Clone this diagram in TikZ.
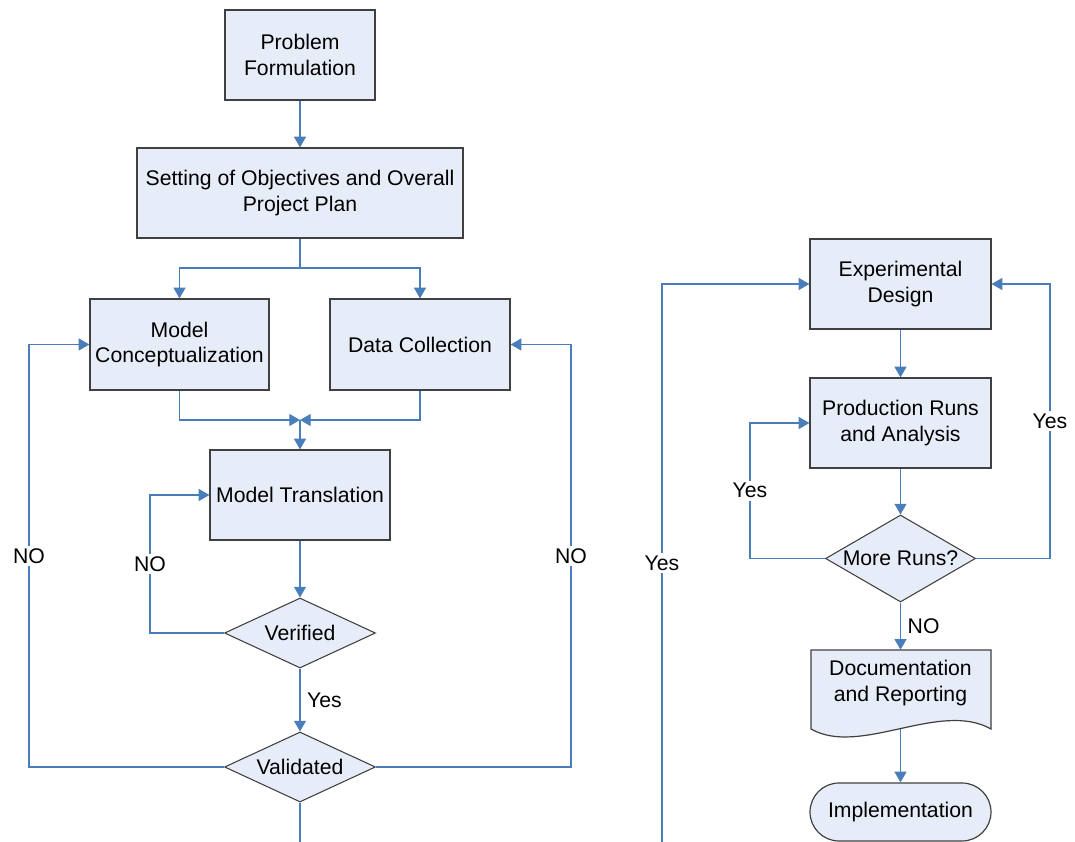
\documentclass[tikz,border=0pt]{standalone}
\usepackage{fontspec}
\setmainfont{Liberation Sans}
\usetikzlibrary{arrows.meta,shapes.geometric,calc}
\definecolor{boxfill}{RGB}{231,237,248}
\definecolor{boxline}{RGB}{64,64,64}
\definecolor{flow}{RGB}{74,126,187}

\begin{document}
\begin{tikzpicture}[x=0.75pt,y=-0.75pt,
  every node/.style={font=\fontsize{15.9}{18.9}\selectfont},
  box/.style={draw=boxline, fill=boxfill, line width=0.9pt, align=center, inner sep=0pt},
  dec/.style={diamond, draw=boxline, fill=boxfill, line width=0.8pt, inner sep=0pt},
  flowline/.style={draw=flow, line width=0.8pt},
  arr/.style={flowline, -{Triangle[length=8pt,width=9pt]}},
  lbl/.style={fill=white, inner sep=2pt},
  side/.style={anchor=west, xshift=5pt, inner sep=0pt},
]
\useasboundingbox (0,0) rectangle (1075,842);

% ---- left column: modelling steps ----
\node[box, minimum width=112.5pt, minimum height=67.5pt] (prob) at (300,55) {Problem\\Formulation};
\node[box, minimum width=244.5pt, minimum height=67.5pt] (obj) at (300,193) {Setting of Objectives and Overall\\Project Plan};
\node[box, minimum width=134.25pt, minimum height=68.25pt] (concept) at (179.5,344.5) {Model\\Conceptualization};
\node[box, minimum width=135pt, minimum height=68.25pt] (data) at (420,344.5) {Data Collection};
\node[box, minimum width=135pt, minimum height=67.5pt] (trans) at (300,495) {Model Translation};
\node[dec, minimum width=113.25pt, minimum height=52.5pt] (verified) at (300,633) {\makebox[0pt]{Verified}};
\node[dec, minimum width=113.25pt, minimum height=52.5pt] (validated) at (300,767) {\makebox[0pt]{Validated}};

\coordinate (split) at (300,268);
\coordinate (merge) at (300,420);
\coordinate (vno) at (150,633);
\coordinate (lno) at (29,767);
\coordinate (rno) at (571,767);
\coordinate (vbot) at (300,842);

\draw[arr] (prob) -- (obj);
\draw[flowline] (obj.south) -- (split);
\draw[arr] (split) -| (concept.north);
\draw[arr] (split) -| (data.north);
\draw[arr] (concept.south) |- (merge);
\draw[arr] (data.south) |- (merge);
\draw[arr] (merge) -- (trans.north);
\draw[arr] (trans.south) -- (verified.north);
\draw[arr] (verified.west) -- (vno) |- node[pos=0.25, lbl] {NO} (trans.west);
\draw[arr] (verified.south) -- node[side] {Yes} (validated.north);
\draw[arr] (validated.west) -- (lno) |- node[pos=0.25, lbl] {NO} (concept.west);
\draw[arr] (validated.east) -- (rno) |- node[pos=0.25, lbl] {NO} (data.east);
\draw[flowline] (validated.south) -- (vbot);

% ---- right column: experimentation ----
\node[box, minimum width=135.75pt, minimum height=67.5pt] (exp) at (900.5,284) {Experimental\\Design};
\node[box, minimum width=135.75pt, minimum height=67.5pt] (prod) at (900.5,423) {Production Runs\\and Analysis};
\node[dec, minimum width=112.5pt, minimum height=65.25pt] (more) at (900.5,558.5) {\makebox[0pt]{More Runs?}};

% document shape with wavy bottom edge
\draw[draw=boxline, fill=boxfill, line width=0.9pt]
  (811,650) -- (991,650) -- (991,729) .. controls (940,700) and (860,757) .. (811,729) -- cycle;
\node[align=center, inner sep=0pt, minimum width=135pt, minimum height=49.5pt] (doc) at (900.5,683) {Documentation\\and Reporting};
\coordinate (docbot) at (900.5,729);

\node[box, rounded corners=21.75pt, minimum width=135.75pt, minimum height=43.5pt] (impl) at (900.5,812) {Implementation};

\coordinate (ybot) at (662,842);
\coordinate (myl) at (750,558.5);
\coordinate (myr) at (1050,558.5);

\draw[arr] (ybot) |- node[pos=0.25, lbl] {Yes} (exp.west);
\draw[arr] (exp.south) -- (prod.north);
\draw[arr] (prod.south) -- (more.north);
\draw[arr] (more.west) -- (myl) |- node[pos=0.25, lbl] {Yes} (prod.west);
\draw[arr] (more.east) -- (myr) |- node[pos=0.25, lbl] {Yes} (exp.east);
\draw[arr] (more.south) -- node[side] {NO} (doc.north);
\draw[arr] (docbot) -- (impl.north);
\end{tikzpicture}
\end{document}
